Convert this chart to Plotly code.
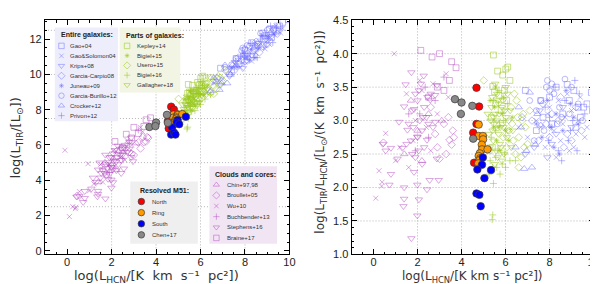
import plotly.graph_objects as go

# ---------------- data: x = log L_HCN ; r = log(L_TIR/L_HCN) ----------------
# Entire galaxies
gao04_x = [6.9, 7.6, 8.0, 8.3, 8.8, 9.1, 9.55, 9.9, 9.7, 8.6, 9.2, 8.1, 7.4, 8.9, 9.95, 7.7, 9.4, 9.3]
gao04_r = [3.45, 3.3, 3.35, 3.5, 3.54, 3.45, 3.2, 3.42, 3.25, 3.1, 2.9, 2.95, 2.85, 3.3, 3.15, 3.05, 3.05, 3.2]
gaosol_x = [7.0, 7.4, 7.8, 8.0, 8.2, 8.4, 8.5, 8.7, 8.9, 9.0, 9.2, 9.4, 9.6, 9.1, 8.3, 7.6, 8.8, 9.3, 7.9, 8.6, 9.7, 6.6]
gaosol_r = [2.75, 3.0, 2.6, 3.2, 2.85, 3.3, 2.7, 3.05, 2.55, 3.15, 2.8, 3.35, 2.75, 2.6, 2.45, 2.9, 3.4, 3.0, 3.1, 2.95, 2.9, 2.9]
krips_x = [7.3, 8.3, 7.9, 8.6, 9.0, 6.9, 7.55, 8.1]
krips_r = [2.6, 2.8, 2.45, 3.2, 2.9, 2.5, 3.15, 2.65]
gcarpio_x = [7.2, 7.7, 8.1, 8.5, 8.8, 9.2, 7.5, 8.0, 8.4, 9.0, 7.85, 8.65, 6.75, 9.45]
gcarpio_r = [3.0, 3.25, 3.1, 3.35, 2.8, 3.2, 2.7, 2.75, 3.0, 2.7, 2.95, 2.6, 3.05, 2.85]
juneau_x = [7.4, 7.9, 8.3, 8.6, 8.95, 9.3, 8.2, 7.65, 9.1, 8.75, 8.45, 8.05]
juneau_r = [2.95, 3.3, 3.1, 2.85, 3.25, 2.95, 2.6, 2.75, 3.05, 3.45, 2.5, 2.9]
gburillo_x = [7.6, 7.9, 8.2, 8.7, 8.45, 8.0, 7.4, 8.9, 9.3, 7.1, 8.35, 7.75, 9.0, 8.55, 9.5, 7.3, 8.1, 7.85]
gburillo_r = [3.3, 3.6, 3.4, 3.62, 3.2, 3.45, 3.15, 3.1, 3.25, 3.3, 2.95, 2.85, 3.5, 3.05, 3.0, 2.7, 3.55, 3.5]
crocker_x = [6.45, 6.85, 7.2, 7.35, 7.6, 7.1, 6.7, 6.95, 7.45, 6.6]
crocker_r = [2.6, 2.28, 2.3, 2.64, 2.93, 3.42, 2.9, 2.55, 3.1, 3.2]
privon_x = [7.8, 8.1, 8.4, 8.7, 9.05, 9.35, 8.25, 8.85, 9.6, 7.95, 9.15, 8.55, 9.25, 8.0, 8.95]
privon_r = [3.2, 2.9, 2.55, 3.3, 3.0, 3.4, 3.5, 2.7, 3.1, 2.7, 3.6, 2.4, 2.55, 3.05, 2.85]

# Parts of galaxies
kepley_x = [5.45, 5.64, 5.87, 6.01, 6.1, 6.2, 5.42, 5.5, 5.7, 5.55, 5.8, 5.35, 6.05, 5.95, 5.6, 5.25, 5.4]
kepley_r = [3.98, 3.74, 3.68, 3.77, 3.8, 3.6, 3.51, 3.43, 3.38, 3.25, 3.15, 3.05, 3.3, 3.45, 2.95, 2.55, 2.6]
bigiel15_x = [5.5, 5.7, 5.85, 5.6, 5.3, 6.0, 5.75, 5.45, 6.3, 5.9, 5.55, 6.15]
bigiel15_r = [3.2, 2.9, 3.1, 2.7, 3.3, 2.85, 2.55, 2.9, 3.05, 3.35, 3.5, 2.7]
usero_x = [5.01, 6.5, 6.8, 6.9, 6.6, 7.0, 6.3, 6.45, 6.7, 6.25, 6.05, 6.55, 6.85, 6.15, 5.9, 6.35, 6.75, 7.1, 6.4, 6.6]
usero_r = [3.6, 3.3, 3.1, 2.9, 2.75, 2.65, 2.95, 2.5, 2.45, 3.2, 2.6, 3.05, 2.6, 2.85, 2.75, 2.7, 3.0, 3.15, 3.4, 2.3]
bigiel16_x = [5.45, 5.42, 5.39, 5.4, 5.6, 5.3, 5.75, 5.85, 5.55, 6.0, 5.65, 5.2, 5.95, 6.2, 5.35, 5.7, 5.45, 5.9, 6.1, 5.55, 6.45, 5.25]
bigiel16_r = [2.06, 1.59, 1.52, 2.3, 2.3, 2.4, 2.2, 2.35, 2.45, 2.3, 2.55, 2.6, 2.5, 2.4, 2.75, 3.45, 3.3, 3.0, 3.25, 2.85, 2.4, 2.2]
gallagher_x = [5.32, 5.41, 5.52, 5.61, 5.68, 5.83, 5.91, 6.02, 5.44, 5.57, 5.66, 5.74, 5.86, 5.97, 6.06, 6.14, 5.36, 5.48, 5.62, 5.71,
               5.79, 5.88, 6.11, 5.24, 5.39, 5.64, 5.93, 6.01, 5.53, 5.76, 5.46, 6.21, 5.84, 6.26, 5.29, 5.69, 5.51, 6.09, 6.33, 5.19]
gallagher_r = [3.0, 2.85, 3.1, 3.0, 2.8, 3.2, 2.9, 3.05, 2.7, 2.55, 3.3, 2.65, 2.95, 3.15, 2.75, 3.0, 3.2, 2.95, 3.4, 3.1,
               2.6, 3.3, 2.85, 2.8, 3.35, 2.45, 2.5, 3.5, 3.55, 2.9, 3.05, 3.15, 2.4, 2.6, 2.6, 3.25, 2.35, 3.4, 2.85, 3.1]

# Clouds and cores
chin_x = [1.4, 2.0, 2.5, 1.7, 3.1, 2.2]
chin_r = [2.5, 2.85, 3.1, 3.3, 3.0, 2.4]
broullet_x = [3.45, 3.55, 3.3, 3.0, 2.8, 3.2, 2.6, 3.4, 2.9, 0.45, 3.6, 3.65]
broullet_r = [2.71, 2.64, 2.5, 2.43, 2.8, 2.95, 3.2, 3.05, 2.6, 2.67, 2.85, 2.75]
wu_x = [-0.1, 0.94, 0.55, 0.39, 0.37, 0.1, 1.5, 2.1, 2.7, 1.2, 1.9, 2.4, 3.4, 1.6, 2.6, 3.3, 2.2, 1.8, 1.0, 2.9, 0.25]
wu_r = [5.8, 4.0, 2.81, 2.08, 2.02, 1.84, 3.4, 3.6, 3.55, 2.6, 3.0, 2.9, 3.35, 2.3, 2.55, 3.7, 3.45, 2.7, 2.4, 3.1, 2.25]
buchbender_x = [2.1, 2.8, 3.2, 1.9, 2.5, 1.6, 2.35]
buchbender_r = [3.1, 3.3, 3.65, 2.55, 2.75, 3.1, 3.5]
stephens_x = [1.72, 2.28, 1.46, 2.06, 2.8, 2.88, 2.58, 1.39, 1.84, 2.25, 2.8, 1.16, 1.54, 1.99, 2.43, 0.79, 1.31, 2.88, 1.09, 1.76,
              2.21, 0.72, 1.39, 1.99, 2.43, 1.39, 2.06, 1.36, 1.99, 1.72, 0.79, 2.55, 2.96, 1.84,
              1.9, 2.0, 2.3, 2.1, 2.4, 1.8, 2.0, 2.2, 1.7, 2.5, 2.3, 1.6, 2.6, 1.9, 2.7, 1.5, 2.15, 2.45, 2.05, 1.75, 0.42, 0.55]
stephens_r = [3.72, 3.67, 3.54, 3.45, 3.38, 3.53, 3.31, 3.21, 3.17, 3.05, 2.98, 2.98, 2.86, 2.76, 2.71, 2.59, 2.59, 2.43, 2.43, 2.5,
              2.35, 2.04, 2.0, 2.04, 1.97, 1.83, 1.82, 1.72, 1.58, 1.24, 2.2, 2.11, 2.11, 2.23,
              3.4, 3.3, 3.2, 3.0, 3.05, 2.9, 2.75, 2.85, 2.7, 2.95, 2.6, 2.95, 3.4, 2.45, 2.9, 2.65, 3.55, 3.35, 2.55, 3.15, 2.65, 2.55]
braine_x = [3.0, 2.66, 3.55, 3.75, 3.45, 2.9, 2.5, 3.2, 2.15]
braine_r = [4.0, 3.95, 3.88, 3.79, 3.6, 3.5, 3.35, 3.45, 4.05]

# Resolved M51
north_x = [4.68, 4.80, 4.68, 4.53, 4.57]
north_r = [3.49, 3.21, 2.95, 2.82, 2.37]
ring_x = [4.78, 4.78, 4.97, 4.98, 4.92, 4.93, 5.18, 4.83, 4.78, 4.86, 4.82, 4.76]
ring_r = [2.94, 2.77, 2.77, 2.72, 2.64, 2.57, 2.57, 2.51, 2.47, 2.44, 2.41, 2.36]
south_x = [4.97, 4.93, 4.72, 5.34, 5.04, 4.68, 4.81, 4.87]
south_r = [2.45, 2.34, 2.27, 2.26, 2.14, 1.91, 1.89, 1.72]
chen_x = [3.70, 4.0, 4.49, 3.97, 4.53]
chen_r = [3.32, 3.27, 3.22, 3.10, 2.73]

# ---------------- styles ----------------
BLUE = "rgba(105,105,255,0.62)"
GREEN = "rgba(150,200,25,0.7)"
PURPLE = "rgba(178,70,192,0.62)"
FONT = "Liberation Sans, Arial, sans-serif"

groups = [
    dict(title="Clouds and cores:", bg="#f1e4f3", box=(203.5, 159, 271.8, 240), tpos=(207.3, 168), row0=178.3, dy=11.1,
         mx=210.5, tx=218.8, items=[
            ("Chin+97,98", chin_x, chin_r, "triangle-up-open", PURPLE),
            ("Broullet+05", broullet_x, broullet_r, "diamond-open", PURPLE),
            ("Wu+10", wu_x, wu_r, "x-thin-open", PURPLE),
            ("Buchbender+13", buchbender_x, buchbender_r, "cross-thin-open", PURPLE),
            ("Stephens+16", stephens_x, stephens_r, "triangle-down-open", PURPLE),
            ("Braine+17", braine_x, braine_r, "square-open", PURPLE)]),
    dict(title="Parts of galaxies:", bg="#f2f5e4", box=(112.8, 14, 174, 82), tpos=(116.7, 22.7), row0=33.3, dy=10.2,
         mx=120.3, tx=128.5, items=[
            ("Kepley+14", kepley_x, kepley_r, "square-open", GREEN),
            ("Bigiel+15", bigiel15_x, bigiel15_r, "asterisk-open", GREEN),
            ("Usero+15", usero_x, usero_r, "diamond-open", GREEN),
            ("Bigiel+16", bigiel16_x, bigiel16_r, "cross-thin-open", GREEN),
            ("Gallagher+18", gallagher_x, gallagher_r, "triangle-down-open", GREEN)]),
    dict(title="Entire galaxies:", bg="#ededfb", box=(47.3, 14, 111, 112), tpos=(51.7, 22), row0=33.3, dy=10.4,
         mx=54.0, tx=60.7, items=[
            ("Gao+04", gao04_x, gao04_r, "square-open", BLUE),
            ("Gao&Solomon04", gaosol_x, gaosol_r, "x-thin-open", BLUE),
            ("Krips+08", krips_x, krips_r, "triangle-down-open", BLUE),
            ("Garcia-Carpio08", gcarpio_x, gcarpio_r, "diamond-open", BLUE),
            ("Juneau+09", juneau_x, juneau_r, "asterisk-open", BLUE),
            ("Garcia-Burillo+12", gburillo_x, gburillo_r, "circle-open", BLUE),
            ("Crocker+12", crocker_x, crocker_r, "triangle-up-open", BLUE),
            ("Privon+12", privon_x, privon_r, "cross-thin-open", BLUE)]),
    dict(title="Resolved M51:", bg="#efefef", box=(123.5, 175, 191.7, 240), tpos=(131.7, 184.5), row0=195.8, dy=11.6,
         mx=134.7, tx=143.5, items=[
            ("North", north_x, north_r, "circle", "#ff0000"),
            ("Ring", ring_x, ring_r, "circle", "#ff9a00"),
            ("South", south_x, south_r, "circle", "#0000ff"),
            ("Chen+17", chen_x, chen_r, "circle", "#888888")]),
]

DATA_SIZE = {"circle": 7.5, "asterisk-open": 4.5, "x-thin-open": 5, "cross-thin-open": 5,
             "triangle-down-open": 6.5, "triangle-up-open": 6.5}
KEY_SIZE = {"circle": 6.5, "asterisk-open": 4, "x-thin-open": 4.5, "cross-thin-open": 4.5}


def marker_style(symbol, color, size):
    if symbol == "circle":
        return dict(symbol=symbol, size=size, color=color, line=dict(color="#3a3a3a", width=0.7))
    return dict(symbol=symbol, size=size, color=color, line=dict(width=0.75))


fig = go.Figure()

# data traces (both panels)
for g in groups:
    for name, xs, rs, sym, col in g["items"]:
        size = DATA_SIZE.get(sym, 5.8)
        ys = [a + b for a, b in zip(xs, rs)]
        fig.add_trace(go.Scatter(x=xs, y=ys, mode="markers", name=name, marker=marker_style(sym, col, size),
                                 xaxis="x", yaxis="y", showlegend=False, hoverinfo="skip"))
        fig.add_trace(go.Scatter(x=xs, y=rs, mode="markers", name=name, marker=marker_style(sym, col, size),
                                 xaxis="x2", yaxis="y2", showlegend=False, hoverinfo="skip"))

# legend boxes (overlay pixel axes x3/y3)
annotations = []
for g in groups:
    x0, y0, x1, y1 = g["box"]
    fig.add_trace(go.Scatter(x=[x0, x1, x1, x0, x0], y=[y0, y0, y1, y1, y0], mode="lines", fill="toself",
                             fillcolor=g["bg"], line=dict(width=0), xaxis="x3", yaxis="y3",
                             showlegend=False, hoverinfo="skip"))
    annotations.append(dict(x=g["tpos"][0], y=g["tpos"][1], xref="x3", yref="y3", text="<b>%s</b>" % g["title"],
                            showarrow=False, xanchor="left", yanchor="middle",
                            font=dict(family=FONT, size=7, color="#222")))
    for i, (name, xs, rs, sym, col) in enumerate(g["items"]):
        yy = g["row0"] + i * g["dy"]
        size = KEY_SIZE.get(sym, 5.5)
        fig.add_trace(go.Scatter(x=[g["mx"]], y=[yy], mode="markers", marker=marker_style(sym, col, size),
                                 xaxis="x3", yaxis="y3", showlegend=False, hoverinfo="skip"))
        annotations.append(dict(x=g["tx"], y=yy, xref="x3", yref="y3", text=name, showarrow=False,
                                xanchor="left", yanchor="middle", font=dict(family=FONT, size=6, color="#333")))

# axis titles (unicode superscripts keep the title boxes compact)
TF_L = dict(family="DejaVu Sans, sans-serif", size=13, color="#333")
TF_R = dict(family="DejaVu Sans, sans-serif", size=12, color="#333")
SP = "\u00a0\u00a0"
xtitle_l = "log(L<sub>HCN</sub>/[K" + SP + "km" + SP + "s\u207b\u00b9" + SP + "pc\u00b2])"
xtitle_r = "log(L<sub>HCN</sub>/[K km s\u207b\u00b9 pc\u00b2])"
annotations += [
    dict(x=150, y=284, xref="x3", yref="y3", text=xtitle_l, showarrow=False, font=TF_L, yanchor="bottom",
         borderpad=0),
    dict(x=469, y=284, xref="x3", yref="y3", text=xtitle_r, showarrow=False, font=TF_R, yanchor="bottom",
         borderpad=0),
    dict(x=9, y=129, xref="x3", yref="y3", text="log(L<sub>TIR</sub>/[L<sub>⊙</sub>])", textangle=-90,
         showarrow=False, font=TF_L),
    dict(x=316, y=123, xref="x3", yref="y3",
         text="log(L<sub>TIR</sub>/L<sub>HCN</sub>/[L<sub>⊙</sub>/(K" + SP + "km" + SP + "s\u207b\u00b9" + SP
              + "pc\u00b2)])",
         textangle=-90, showarrow=False, font=TF_R),
]

# grid lines (dotted)
shapes = []
GRID = dict(color="#b4b4b4", width=1, dash="1px,2px")
for ax, yax, vx, vy in [("x", "y", [2, 4, 6, 8], [2.5, 5, 7.5, 10, 12.5]),
                        ("x2", "y2", [2, 4, 6, 8], [1.5, 2.0, 2.5, 3.0, 3.5, 4.0])]:
    for v in vx:
        shapes.append(dict(type="line", xref=ax, yref=yax + " domain", x0=v, x1=v, y0=0, y1=1, line=GRID, layer="below"))
    for v in vy:
        shapes.append(dict(type="line", xref=ax + " domain", yref=yax, x0=0, x1=1, y0=v, y1=v, line=GRID, layer="below"))

W, H = 598, 284
ytop, ybot = 6.5, 251
common = dict(showline=True, linecolor="black", linewidth=1, mirror="allticks", ticks="inside",
              tickcolor="black", ticklen=5, showgrid=False, zeroline=False,
              tickfont=dict(family=FONT, size=11, color="#222"))
xcommon = dict(common, ticklabelstandoff=-3)

fig.update_layout(
    width=W, height=H, margin=dict(l=0, r=0, t=0, b=0),
    paper_bgcolor="white", plot_bgcolor="rgba(0,0,0,0)",
    xaxis=dict(domain=[37.3 / W, 284.3 / W], range=[-1, 10], anchor="y", tick0=0, dtick=2,
               minor=dict(dtick=0.5, ticklen=2.5, ticks="inside", tickcolor="black"), **xcommon),
    yaxis=dict(domain=[(H - ybot) / H, (H - ytop) / H], range=[-0.2, 13.07], anchor="x", tick0=0, dtick=2,
               minor=dict(dtick=0.5, ticklen=2.5, ticks="inside", tickcolor="black"), **common),
    xaxis2=dict(domain=[347 / W, 591.5 / W], range=[-1, 10], anchor="y2", tick0=0, dtick=2,
                minor=dict(dtick=0.5, ticklen=2.5, ticks="inside", tickcolor="black"), **xcommon),
    yaxis2=dict(domain=[(H - ybot) / H, (H - ytop) / H], range=[1.0, 4.5], anchor="x2", tick0=1, dtick=0.5,
                tickformat=".1f", minor=dict(dtick=0.1, ticklen=2.5, ticks="inside", tickcolor="black"), **common),
    xaxis3=dict(domain=[0, 1], range=[0, W], anchor="y3", visible=False, fixedrange=True),
    yaxis3=dict(domain=[0, 1], range=[H, 0], anchor="x3", visible=False, fixedrange=True),
    annotations=annotations, shapes=shapes, showlegend=False,
)

fig.write_html("out.html")
